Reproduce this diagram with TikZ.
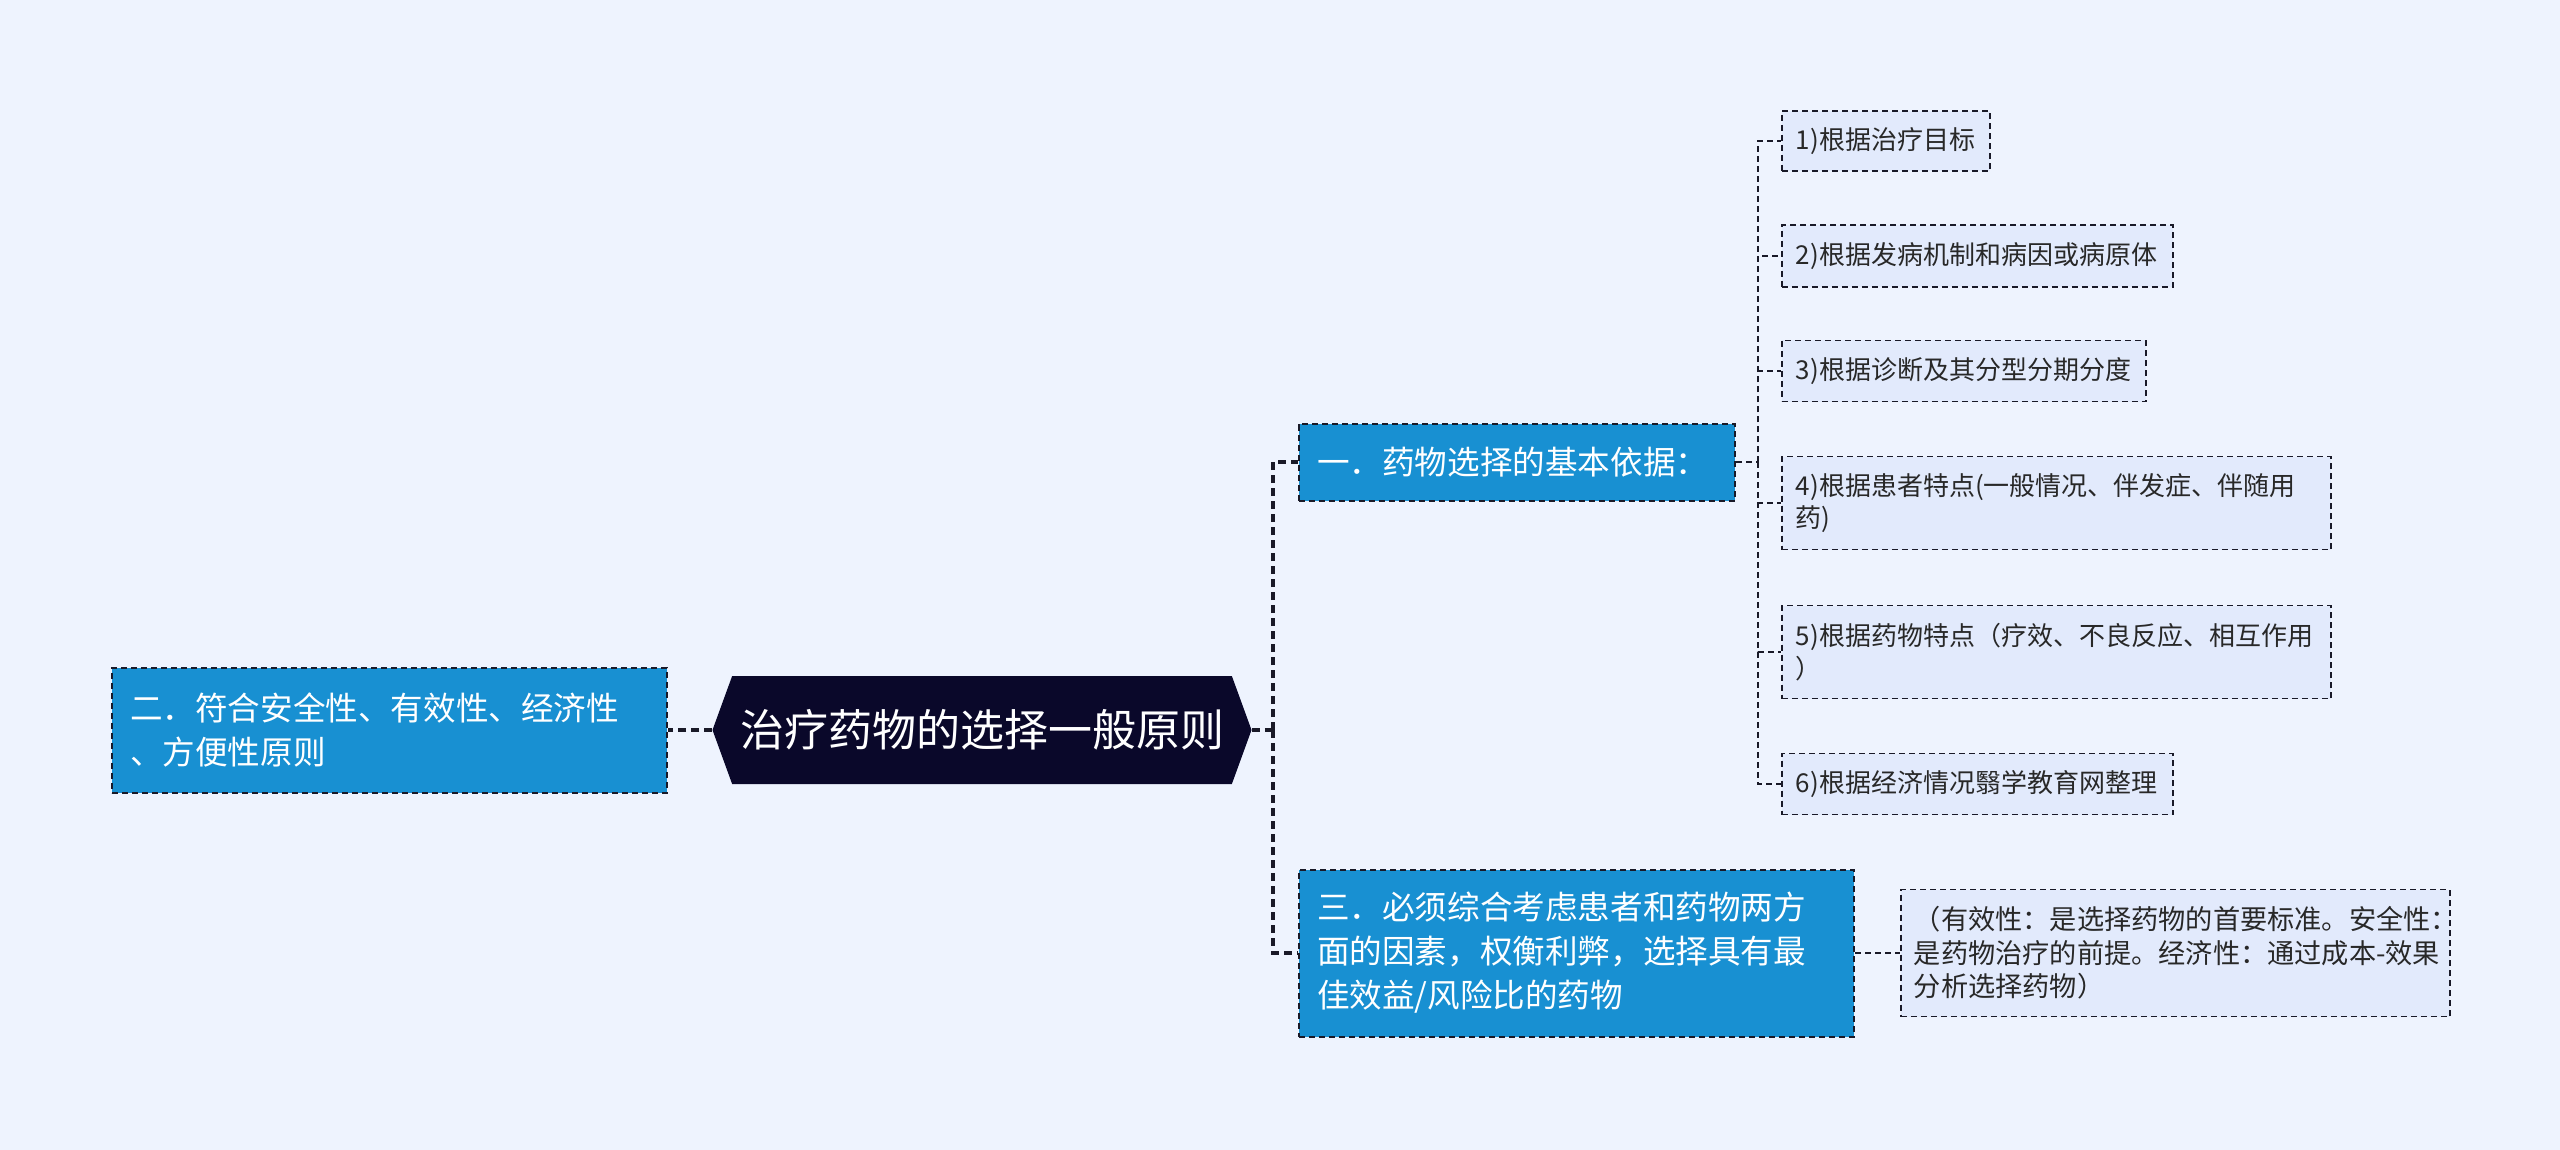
\documentclass[tikz,border=0pt]{standalone}
\usepackage{fontspec}
\setmainfont{Noto Sans CJK SC}
\usetikzlibrary{shapes.symbols}
\definecolor{bgblue}{RGB}{238,243,254}
\definecolor{nodeblue}{RGB}{24,144,210}
\definecolor{rootnavy}{RGB}{10,8,42}
\definecolor{leafblue}{RGB}{226,234,252}
\definecolor{linedark}{RGB}{25,25,40}
\definecolor{leaftext}{RGB}{40,40,40}

\begin{document}
\begin{tikzpicture}[x=0.5pt,y=-0.5pt,
		rootbox/.style={signal, signal to=east and west, signal pointer angle=140,
			fill=rootnavy, text=white, minimum width=269.5pt, minimum height=54pt,
			inner sep=0pt, font=\fontsize{22}{26}\selectfont},
		mainbox/.style={draw=linedark, dash pattern=on 3pt off 2pt, line width=1pt,
			fill=nodeblue, text=white, align=left, inner xsep=9pt, anchor=west,
			font=\fontsize{16.3}{22}\selectfont},
		leafbox/.style={draw=linedark, dash pattern=on 3pt off 2pt, line width=.8pt,
			fill=leafblue, text=leaftext, align=left, inner xsep=7pt, anchor=west,
			font=\fontsize{13}{16.3}\selectfont},
		conn/.style={draw=linedark, line width=1.6pt, dash pattern=on 4pt off 2.5pt},
		leafconn/.style={draw=linedark, line width=1pt, dash pattern=on 3pt off 2pt}]

		% page
		\fill[bgblue] (0,0) rectangle (2560,1150);
		\useasboundingbox (0,0) rectangle (2560,1150);

		% root and first level
		\node[rootbox] (root) at (982,730) {治疗药物的选择一般原则};
		\node[mainbox, text width=259.5pt, minimum height=62.5pt] (left) at (111,730)
			{二．符合安全性、有效性、经济性\\、方便性原则};
		\node[mainbox, text width=200pt, minimum height=38.5pt] (n1) at (1298,462)
			{一．药物选择的基本依据：};
		\node[mainbox, text width=259.5pt, minimum height=83.5pt] (n3) at (1298,953)
			{三．必须综合考虑患者和药物两方\\面的因素，权衡利弊，选择具有最\\佳效益/风险比的药物};

		% leaves
		\node[leafbox, text width=90pt, minimum height=30pt] (l1) at (1781,141) {1)根据治疗目标};
		\node[leafbox, text width=181.5pt, minimum height=31pt] (l2) at (1781,256) {2)根据发病机制和病因或病原体};
		\node[leafbox, text width=168pt, minimum height=30.5pt] (l3) at (1781,371) {3)根据诊断及其分型分期分度};
		\node[leafbox, text width=260.5pt, minimum height=46.5pt] (l4) at (1781,503)
			{4)根据患者特点(一般情况、伴发症、伴随用\\药)};
		\node[leafbox, text width=260.5pt, minimum height=46.5pt] (l5) at (1781,652)
			{5)根据药物特点（疗效、不良反应、相互作用\\）};
		\node[leafbox, text width=181.5pt, minimum height=30.5pt] (l6) at (1781,784) {6)根据经济情况翳学教育网整理};
		\node[leafbox, text width=261.5pt, minimum height=63.5pt, inner xsep=6.5pt,
			font=\fontsize{13.6}{16.75}\selectfont] (c3) at (1900,953)
			{（有效性：是选择药物的首要标准。安全性：\\是药物治疗的前提。经济性：通过成本\mbox{-}效果\\分析选择药物）};

		% connectors
		\coordinate (mbus) at (1273,730);
		\coordinate (lbus) at (1758,462);
		\draw[conn] (root.west) -- (left.east);
		\draw[conn] (root.east) -- (mbus);
		\draw[conn] (mbus) |- (n1.west);
		\draw[conn] (mbus) |- (n3.west);
		\draw[leafconn] (n1.east) -- (lbus);
		\foreach \i in {1,...,6}
			\draw[leafconn] (lbus) |- (l\i.west);
		\draw[leafconn] (n3.east) -- (c3.west);
	\end{tikzpicture}
\end{document}
